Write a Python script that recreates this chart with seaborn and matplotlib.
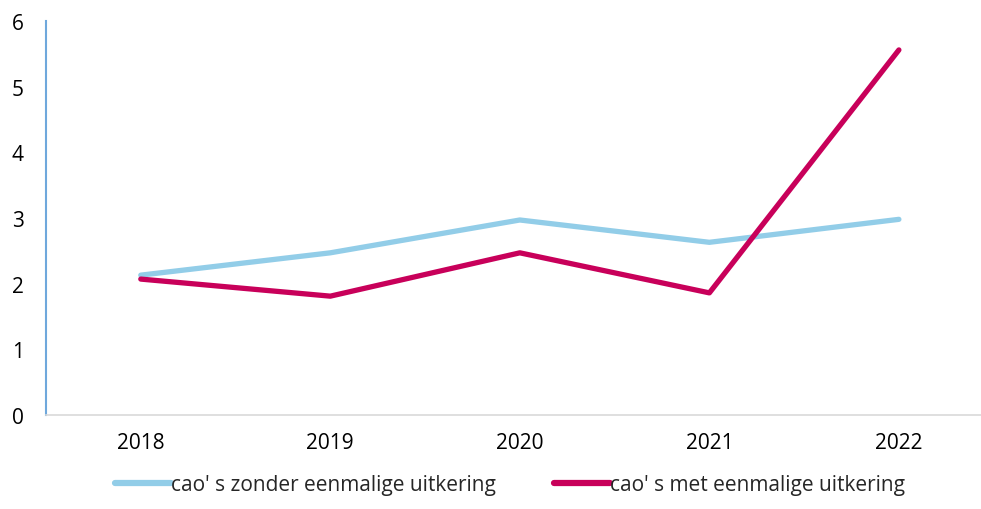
"""Cao-loonstijging met en zonder eenmalige uitkering, 2018-2022."""
import seaborn as sns
from matplotlib import pyplot as plt
import pandas as pd

years = ['2018', '2019', '2020', '2021', '2022']
zonder = [2.13, 2.47, 2.97, 2.63, 2.98]
met = [2.07, 1.81, 2.47, 1.86, 5.56]
series = ["cao' s zonder eenmalige uitkering", "cao' s met eenmalige uitkering"]

df = pd.DataFrame({
    'jaar': years * 2,
    'waarde': zonder + met,
    'reeks': [series[0]] * 5 + [series[1]] * 5,
})

sns.set_style('white')
plt.rcParams['font.family'] = ['Open Sans', 'DejaVu Sans']

fig = plt.figure(figsize=(9.81, 5.10), dpi=100)
ax = fig.add_axes([0.0469, 0.1843, 0.966, 0.7725])

sns.lineplot(data=df, x='jaar', y='waarde', hue='reeks', hue_order=series,
             palette=['#92CDE8', '#C8005A'], linewidth=3.8, sort=False,
             solid_capstyle='round', ax=ax)

ax.set_xlim(-0.5, 4.5)
ax.set_ylim(0, 6)
ax.set_yticks(range(7))
ax.set_xlabel('')
ax.set_ylabel('')
ax.tick_params(axis='both', length=0, labelsize=15, colors='#000000')
ax.tick_params(axis='y', pad=16)
ax.tick_params(axis='x', pad=12)

for s in ['top', 'right']:
    ax.spines[s].set_visible(False)
ax.spines['left'].set_color('#6FA8DC')
ax.spines['left'].set_linewidth(1.5)
ax.spines['bottom'].set_color('#D9D9D9')
ax.spines['bottom'].set_linewidth(1.2)

handles, labels = ax.get_legend_handles_labels()
ax.get_legend().remove()
for h in handles:
    h.set_solid_capstyle('round')
    h.set_linewidth(4.5)
fig.legend(handles, labels, loc='lower center', bbox_to_anchor=(0.52, -0.01),
           ncol=2, frameon=False, fontsize=15, handlelength=2.7,
           handletextpad=0.0, columnspacing=2.8)

fig.savefig('out.png', dpi=100)
